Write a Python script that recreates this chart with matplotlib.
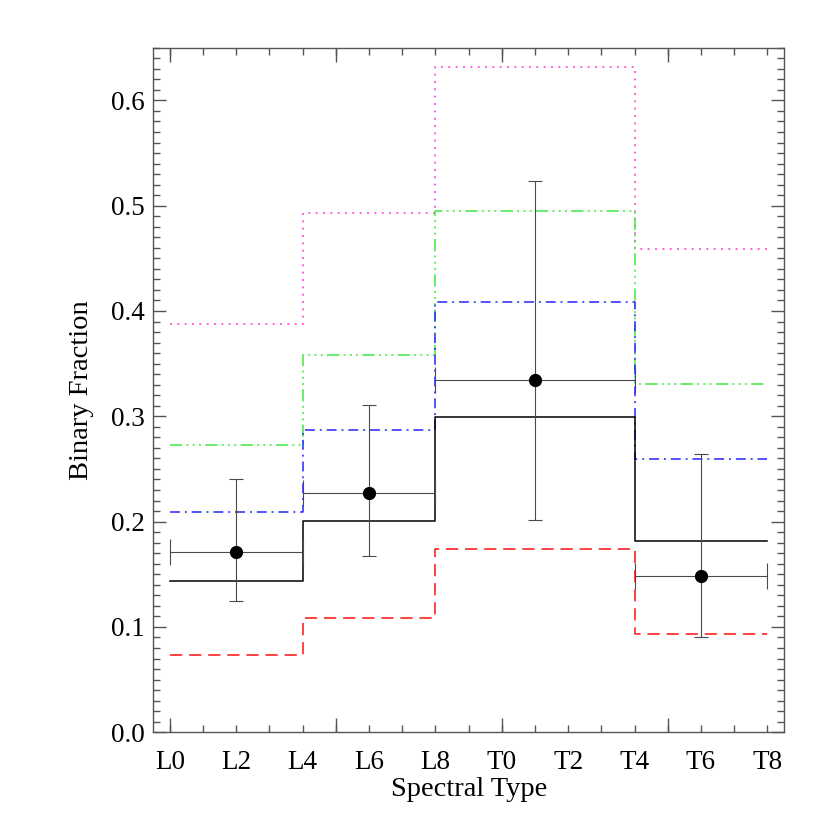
"""
Binary fraction vs spectral type (L0-T8), step histograms with error points
"""
import matplotlib

matplotlib.use("Agg")
import matplotlib.pyplot as plt
from matplotlib.ticker import FixedLocator, MultipleLocator, FuncFormatter, FormatStrFormatter

plt.rcParams['font.family'] = ['Liberation Serif', 'DejaVu Serif']
plt.rcParams['mathtext.fontset'] = 'stix'

# bin edges in spectral type units (L0 = 0, T0 = 10)
edges = [0, 4, 8, 14, 18]
frac_solid = [0.144, 0.201, 0.299, 0.182]
frac_red = [0.073, 0.108, 0.174, 0.093]
frac_blue = [0.209, 0.287, 0.409, 0.259]
frac_green = [0.273, 0.358, 0.495, 0.331]
frac_magenta = [0.388, 0.493, 0.632, 0.459]

# measured points
pt_x = [2, 6, 11, 16]
pt_y = [0.1715, 0.227, 0.334, 0.148]
pt_ylo = [0.125, 0.167, 0.2015, 0.0905]
pt_yhi = [0.240, 0.311, 0.523, 0.264]
pt_xlo = [0, 4, 8, 14]
pt_xhi = [4, 8, 14, 18]

tick_names = ['L0', 'L2', 'L4', 'L6', 'L8', 'T0', 'T2', 'T4', 'T6', 'T8']
tick_pos = [0, 2, 4, 6, 8, 10, 12, 14, 16, 18]

axis_gray = '#555555'

fig = plt.figure(figsize=(8.3, 8.3), dpi=100)
ax = fig.add_axes([0.1847, 0.1178, 0.7599, 0.8247])


def step(vals, **kw):
    ax.plot(edges, list(vals) + [vals[-1]], drawstyle='steps-post', lw=1.1, **kw)


step(frac_magenta, color='#ff38d0', linestyle=(0, (1.3, 3.5)))
step(frac_green, color='#3ee83e', linestyle=(0, (8, 2.8, 1.3, 2.8, 1.3, 2.8, 1.3, 2.8)))
step(frac_blue, color='#2424ff', linestyle=(0, (6.5, 3.2, 1.3, 3.2)))
step(frac_red, color='#ff1010', linestyle=(0, (8, 4.5)))
step(frac_solid, color='black', linestyle='-')

# horizontal bars (bin width) and vertical error bars, different cap sizes
xerr = [[x - lo for x, lo in zip(pt_x, pt_xlo)], [hi - x for x, hi in zip(pt_x, pt_xhi)]]
yerr = [[y - lo for y, lo in zip(pt_y, pt_ylo)], [hi - y for y, hi in zip(pt_y, pt_yhi)]]
ax.errorbar(pt_x, pt_y, xerr=xerr, fmt='none', ecolor='#4a4a4a', elinewidth=0.8,
            capsize=9.7, capthick=0.8)
ax.errorbar(pt_x, pt_y, yerr=yerr, fmt='none', ecolor='#4a4a4a', elinewidth=0.8,
            capsize=4.7, capthick=0.8)
ax.plot(pt_x, pt_y, 'o', color='black', markersize=8.5, zorder=5)

ax.set_xlim(-0.5, 18.5)
ax.set_ylim(0.0, 0.65)

# x: long ticks every 5, short every 1, labels every 2
ax.xaxis.set_major_locator(FixedLocator([0, 5, 10, 15]))
ax.xaxis.set_major_formatter(FuncFormatter(lambda v, p: ''))
ax.xaxis.set_minor_locator(FixedLocator(list(range(0, 19))))
names = dict(zip(tick_pos, tick_names))
ax.xaxis.set_minor_formatter(FuncFormatter(lambda v, p: names.get(int(round(v)), '')))
ax.xaxis.remove_overlapping_locs = False

ax.yaxis.set_major_locator(MultipleLocator(0.1))
ax.yaxis.set_major_formatter(FormatStrFormatter('%.1f'))
ax.yaxis.set_minor_locator(MultipleLocator(0.01))

ax.tick_params(axis='both', which='both', direction='in', top=True, right=True,
               color=axis_gray, width=1.0)
ax.tick_params(axis='x', which='major', length=10, pad=13)
ax.tick_params(axis='x', which='minor', length=5, pad=13, labelsize=19.5)
ax.tick_params(axis='y', which='major', length=9.4, pad=6, labelsize=19.5)
ax.tick_params(axis='y', which='minor', length=5)

for s in ax.spines.values():
    s.set_color(axis_gray)
    s.set_linewidth(1.0)

ax.set_xlabel('Spectral Type', fontsize=20.5, labelpad=1)
ax.set_ylabel('Binary Fraction', fontsize=20.5, labelpad=12)

plt.savefig('out.png', dpi=100)
